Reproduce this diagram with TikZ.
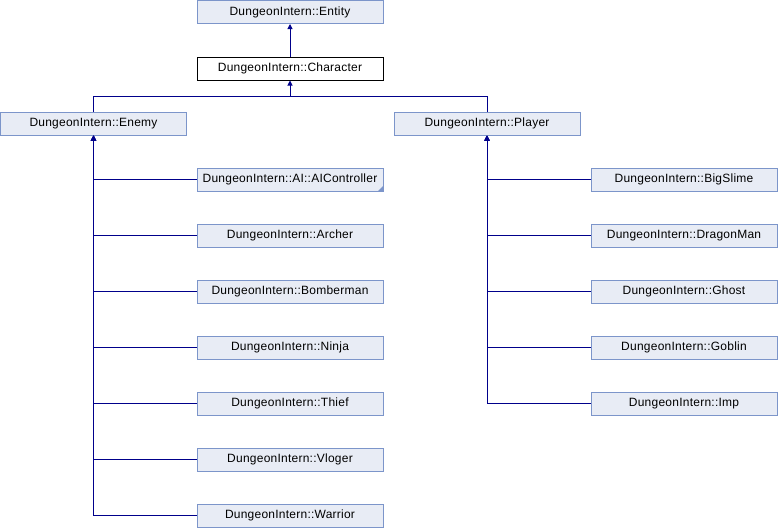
\documentclass[tikz,border=0pt]{standalone}
\usepackage{fontspec}
\setmainfont{Liberation Sans}[LetterSpace=2]
\usetikzlibrary{arrows.meta}
\definecolor{boxfill}{RGB}{232,236,245}
\definecolor{boxline}{RGB}{124,149,202}
\definecolor{edgeblue}{RGB}{0,0,139}
\tikzset{
  cls/.style={draw=boxline, fill=boxfill, line width=1pt, minimum width=186pt,
    minimum height=23pt, inner sep=0pt, font=\fontsize{12}{14}\selectfont},
  focus/.style={cls, draw=black, fill=white},
  inherit/.style={draw=edgeblue, line width=1pt, -{Triangle[width=5pt,length=5pt]}},
  edge/.style={draw=edgeblue, line width=1pt}
}
\begin{document}
\begin{tikzpicture}[x=1pt, y=-1pt]
  \useasboundingbox (0,0) rectangle (778,528);

  % base classes
  \node[cls]   (entity)    at (290,12) {DungeonIntern::Entity};
  \node[focus] (character) at (290,68.5) {DungeonIntern::Character};
  \node[cls]   (enemy)     at (93.5,123.5) {DungeonIntern::Enemy};
  \node[cls]   (player)    at (487,123.5) {DungeonIntern::Player};

  % enemy subclasses
  \node[cls] (ai)        at (290,179.5) {DungeonIntern::AI::AIController};
  \node[cls] (archer)    at (290,235.5) {DungeonIntern::Archer};
  \node[cls] (bomberman) at (290,291.5) {DungeonIntern::Bomberman};
  \node[cls] (ninja)     at (290,347.5) {DungeonIntern::Ninja};
  \node[cls] (thief)     at (290,403.5) {DungeonIntern::Thief};
  \node[cls] (vloger)    at (290,459.5) {DungeonIntern::Vloger};
  \node[cls] (warrior)   at (290,515.5) {DungeonIntern::Warrior};

  % player subclasses
  \node[cls] (bigslime)   at (684,179.5) {DungeonIntern::BigSlime};
  \node[cls] (dragonman)  at (684,235.5) {DungeonIntern::DragonMan};
  \node[cls] (ghost)      at (684,291.5) {DungeonIntern::Ghost};
  \node[cls] (goblin)     at (684,347.5) {DungeonIntern::Goblin};
  \node[cls] (imp)        at (684,403.5) {DungeonIntern::Imp};

  % marker for a class with hidden members
  \fill[boxline] (ai.south east) -- ++(-6,0) -- ++(6,-6) -- cycle;

  % inheritance edges
  \draw[inherit] (character.north) -- (entity.south);

  \coordinate (split) at (290,96.5);
  \draw[edge] (enemy.north) |- (split);
  \draw[edge] (player.north) |- (split);
  \draw[inherit] (split) -- (character.south);

  \foreach \c in {ai,archer,bomberman,ninja,thief,vloger,warrior}
    \draw[inherit] (\c.west) -| (enemy.south);
  \foreach \c in {bigslime,dragonman,ghost,goblin,imp}
    \draw[inherit] (\c.west) -| (player.south);
\end{tikzpicture}
\end{document}
